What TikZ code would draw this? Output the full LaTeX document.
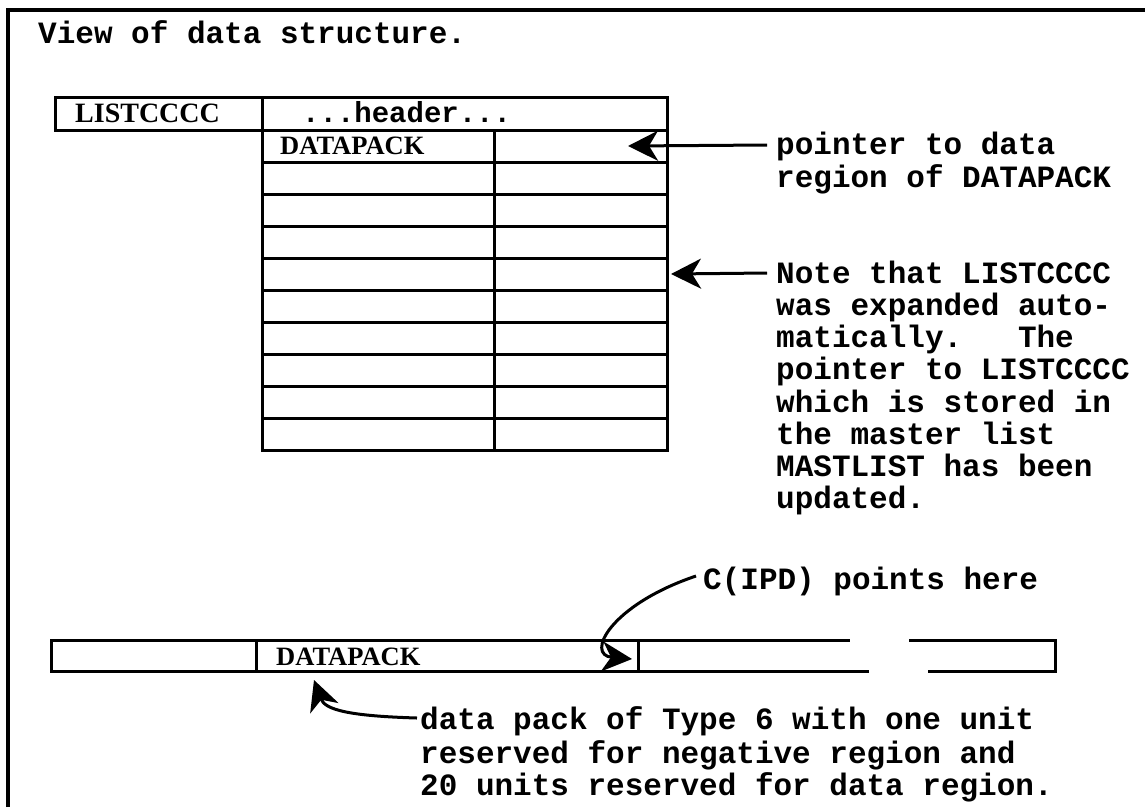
\documentclass[tikz,border=0pt]{standalone}
\usepackage{fontspec}
\newfontfamily\monofnt{Liberation Mono}
\newfontfamily\seriffnt{Liberation Serif}
\usetikzlibrary{arrows.meta,calc}
\begin{document}
\begin{tikzpicture}[x=1pt,y=-1pt,
  cell/.style={draw,line width=3pt,inner sep=0pt,outer sep=0pt,anchor=north west,minimum height=32pt},
  mono/.style={font=\monofnt\bfseries\fontsize{31}{32.2}\selectfont\frenchspacing,inner sep=0pt},
  block/.style={mono,align=left,anchor=north west},
  lbl/.style={font=\seriffnt\bfseries\fontsize{26.5}{30}\selectfont,inner sep=0pt,anchor=base west},
  ptr/.style={line width=3pt,arrows={-Stealth[length=30pt 0 0,width=30pt 0 0,inset=9pt 0]}}
]
\useasboundingbox (0,0) rectangle (1145,807);
\fill[white] (0,0) rectangle (1145,807);
% frame
\draw[line width=3.5pt] (8,807) -- (8,10) -- (1145,10);
% title
\node[mono,anchor=base west] (title) at (38,43) {View of data structure.};
% table
\node[cell,minimum width=207pt,minimum height=33pt] (list) at (55,97) {};
\node[cell,minimum width=405pt,minimum height=33pt] (head) at (262,97) {};
\foreach \i in {0,...,9} {
  \node[cell,minimum width=232pt] (a\i) at (262,{130+32*\i}) {};
  \node[cell,minimum width=173pt] (b\i) at (494,{130+32*\i}) {};
}
\node[lbl,font=\seriffnt\bfseries\fontsize{28}{30}\selectfont] (tlist) at (75,122) {LISTCCCC};
\node[mono,anchor=base west,font=\monofnt\bfseries\fontsize{29}{32}\selectfont] (thead) at (302,122) {...header...};
\node[lbl] (tdp1) at (280,154) {DATAPACK};
% bottom bar
\node[cell,minimum width=205pt,minimum height=31pt] (bl) at (51,640) {};
\node[cell,minimum width=382pt,minimum height=31pt] (bm) at (256,640) {};
\draw[line width=3pt] (bm.north east) -- (850,640) (909,640) -- (1055,640) -- (1055,671) -- (928,671) (869,671) -- (bm.south east);
\node[lbl] (tdp2) at (276,665) {DATAPACK};
% texts
\node[block] (p1) at (776,131.5) {\strut pointer to data\\region of DATAPACK};
\node[block] (p2) at (776,260.5) {\strut Note that LISTCCCC\\was expanded auto-\\matically.\ \ \ The\\pointer to LISTCCCC\\which is stored in\\the master list\\MASTLIST has been\\updated.};
\node[mono,anchor=base west] (p3) at (703,589) {C(IPD) points here};
\node[block] (p4) at (420,706.5) {\strut data pack of Type 6 with one unit\\reserved for negative region and\\20 units reserved for data region.};
% arrows
\draw[ptr] ([xshift=-9pt,yshift=-13.5pt]p1.north west) -- ([xshift=-39pt]b0.east);
\draw[ptr] ([xshift=-9pt,yshift=-12.5pt]p2.north west) -- ([xshift=4pt]b4.east);
\draw[ptr] ([xshift=-7pt,yshift=13pt]p3.base west) .. controls (610,605) and (585,655) .. ([xshift=-6pt,yshift=-3.5pt]bm.east);
\draw[ptr] ([xshift=-3pt,yshift=-11.5pt]p4.north west) .. controls (350,716) and (325,710) .. ([xshift=58pt,yshift=-9pt]bm.south west);
\end{tikzpicture}
\end{document}
